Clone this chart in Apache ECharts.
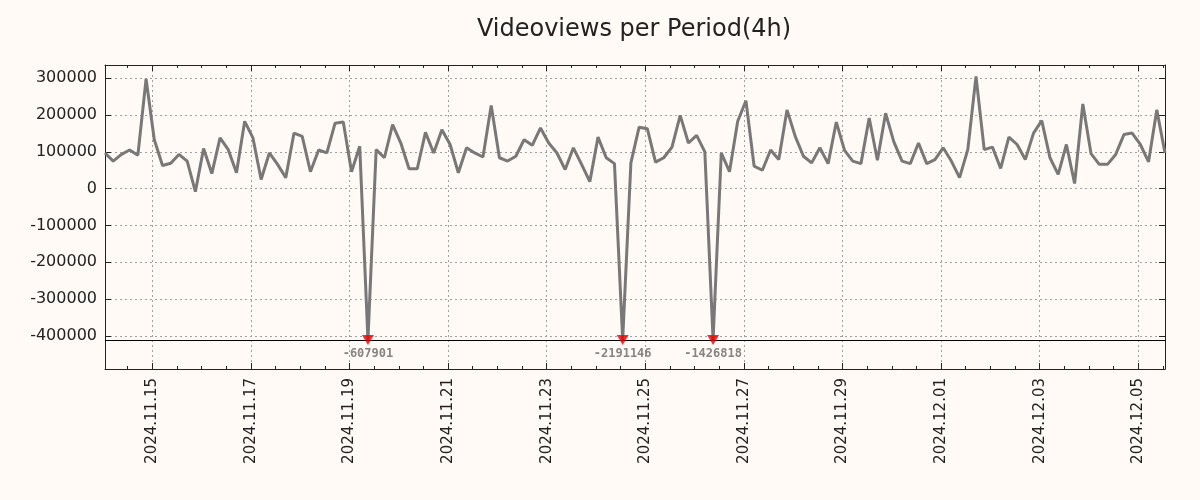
<!DOCTYPE html>
<html>
<head>
<meta charset="utf-8">
<script src="https://cdn.jsdelivr.net/npm/echarts@6/dist/echarts.min.js"></script>
<style>
  html, body { margin: 0; padding: 0; background: #fffaf6; }
  #chart { width: 1200px; height: 500px; }
</style>
</head>
<body>
<div id="chart"></div>
<script>
// views per 4h period, first period starts 2024-11-14 01:00
const views = [
  97000, 75000, 93000, 105000, 91000, 298000, 133000, 63000, 69000, 93000,
  75000, -8000, 109000, 41000, 138000, 106000, 43000, 183000, 138000, 25000,
  97000, 66000, 30000, 151000, 142000, 46000, 105000, 97000, 178000, 181000,
  46000, 115000, -607901, 106000, 84000, 174000, 124000, 54000, 54000, 153000,
  97000, 160000, 120000, 43000, 111000, 97000, 86000, 226000, 84000, 75000,
  88000, 133000, 118000, 165000, 124000, 97000, 52000, 111000, 66000, 19000,
  140000, 84000, 68000, -2191146, 70000, 167000, 163000, 72000, 84000, 113000,
  199000, 124000, 145000, 100000, -1426818, 97000, 46000, 183000, 239000, 61000,
  50000, 105000, 79000, 214000, 142000, 88000, 70000, 111000, 68000, 181000,
  104000, 75000, 68000, 192000, 77000, 205000, 127000, 75000, 68000, 124000,
  68000, 79000, 111000, 75000, 30000, 106000, 305000, 106000, 113000, 55000,
  140000, 120000, 79000, 151000, 185000, 84000, 39000, 120000, 14000, 230000,
  95000, 66000, 66000, 93000, 147000, 151000, 120000, 73000, 214000, 97000
];
const startTime = Date.UTC(2024, 10, 14, 1);
const periodMs = 4 * 3600 * 1000;
const xTickDays = ['2024-11-15', '2024-11-17', '2024-11-19', '2024-11-21', '2024-11-23', '2024-11-25',
  '2024-11-27', '2024-11-29', '2024-12-01', '2024-12-03', '2024-12-05'];
const yTicks = [-400000, -300000, -200000, -100000, 0, 100000, 200000, 300000];
const clipFloor = -411000; // values below are drawn at this line with a marker

const endTime = startTime + (views.length - 1) * periodMs;
const xTicks = xTickDays.map(d => Date.parse(d + 'T00:00:00Z'));
const minorTicks = [];
for (let t = xTicks[0] - 12 * 3600 * 1000; t <= endTime; t += 12 * 3600 * 1000) {
  if (t >= startTime) minorTicks.push(t);
}

const pad = n => (n < 10 ? '0' : '') + n;
const fmtDay = v => {
  const d = new Date(v);
  return d.getUTCFullYear() + '.' + pad(d.getUTCMonth() + 1) + '.' + pad(d.getUTCDate());
};

const lineData = views.map((v, i) => [startTime + i * periodMs, Math.max(v, clipFloor)]);
const clippedData = [];
views.forEach((v, i) => {
  if (v < clipFloor) clippedData.push([startTime + i * periodMs, clipFloor, v]);
});

const axisColor = '#222';
const gridLine = { show: true, lineStyle: { color: '#a0a0a0', type: [2, 3], width: 1 } };

const xCommon = {
  type: 'value',
  min: startTime,
  max: endTime,
  gridIndex: 0
};
const yCommon = {
  type: 'value',
  min: -490000,
  max: 336000
};

const myChart = echarts.init(document.getElementById('chart'));
myChart.setOption({
  animation: false,
  backgroundColor: '#fffaf6',
  graphic: [{
    type: 'text',
    x: 634,
    y: 30,
    style: {
      text: 'Videoviews per Period(4h)',
      textAlign: 'center',
      textVerticalAlign: 'middle',
      font: '24px "DejaVu Sans"',
      fill: '#222'
    }
  }],
  grid: { left: 105, right: 35, top: 65, bottom: 131 },
  xAxis: [
    Object.assign({}, xCommon, {
      position: 'bottom',
      axisLine: { show: true, onZero: false, lineStyle: { color: axisColor, width: 1 } },
      axisTick: { show: true, inside: true, length: 6, customValues: xTicks, lineStyle: { color: axisColor } },
      axisLabel: {
        customValues: xTicks, rotate: 90, formatter: fmtDay, margin: 9,
        fontSize: 15, fontFamily: 'DejaVu Sans', color: axisColor
      },
      splitLine: gridLine
    }),
    Object.assign({}, xCommon, {
      position: 'top',
      axisLine: { show: true, onZero: false, lineStyle: { color: axisColor, width: 1 } },
      axisTick: { show: true, inside: true, length: 6, customValues: xTicks, lineStyle: { color: axisColor } },
      axisLabel: { show: false },
      splitLine: { show: false }
    }),
    Object.assign({}, xCommon, {
      position: 'bottom',
      axisLine: { show: false, onZero: false },
      axisTick: { show: true, inside: true, length: 3, customValues: minorTicks, lineStyle: { color: axisColor } },
      axisLabel: { show: false },
      splitLine: { show: false }
    }),
    Object.assign({}, xCommon, {
      position: 'top',
      axisLine: { show: false, onZero: false },
      axisTick: { show: true, inside: true, length: 3, customValues: minorTicks, lineStyle: { color: axisColor } },
      axisLabel: { show: false },
      splitLine: { show: false }
    })
  ],
  yAxis: [
    Object.assign({}, yCommon, {
      position: 'left',
      axisLine: { show: true, onZero: false, lineStyle: { color: axisColor, width: 1 } },
      axisTick: { show: true, inside: true, length: 6, customValues: yTicks, lineStyle: { color: axisColor } },
      axisLabel: {
        customValues: yTicks, margin: 8, formatter: v => String(v),
        fontSize: 16, fontFamily: 'DejaVu Sans', color: axisColor
      },
      splitLine: gridLine
    }),
    Object.assign({}, yCommon, {
      position: 'right',
      axisLine: { show: true, onZero: false, lineStyle: { color: axisColor, width: 1 } },
      axisTick: { show: true, inside: true, length: 6, customValues: yTicks, lineStyle: { color: axisColor } },
      axisLabel: { show: false },
      splitLine: { show: false }
    })
  ],
  series: [
    {
      type: 'line',
      data: lineData,
      xAxisIndex: 0,
      yAxisIndex: 0,
      showSymbol: false,
      lineStyle: { color: '#787878', width: 3 },
      markLine: {
        silent: true,
        symbol: 'none',
        label: { show: false },
        lineStyle: { color: '#000', type: 'solid', width: 1 },
        data: [{ yAxis: clipFloor }]
      }
    },
    {
      type: 'scatter',
      data: clippedData,
      xAxisIndex: 0,
      yAxisIndex: 0,
      symbol: 'triangle',
      symbolRotate: 180,
      symbolSize: [12, 10],
      itemStyle: { color: '#ee0000' },
      z: 5,
      label: {
        show: true,
        position: 'bottom',
        distance: 3,
        formatter: p => String(p.data[2]),
        fontFamily: 'DejaVu Sans Mono',
        fontWeight: 'bold',
        fontSize: 12,
        color: '#666666'
      }
    }
  ]
});
</script>
</body>
</html>
